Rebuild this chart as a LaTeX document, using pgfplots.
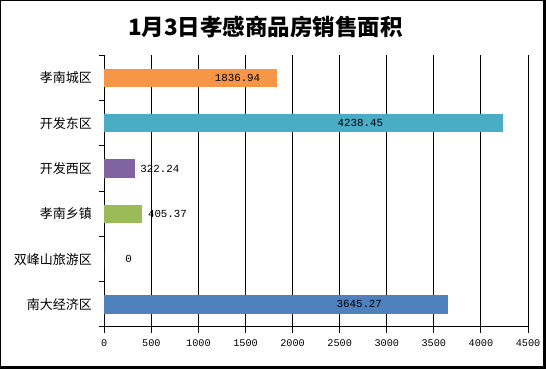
\documentclass[border=0pt]{standalone}
\usepackage{pgfplots}
\pgfplotsset{compat=1.18}
\usepackage{fontspec}
\newfontfamily\cjk{Noto Sans CJK SC}
\newfontfamily\mono{Liberation Mono}
\definecolor{cOrange}{HTML}{F79646}
\definecolor{cTeal}{HTML}{4BACC6}
\definecolor{cPurple}{HTML}{8064A2}
\definecolor{cGreen}{HTML}{9BBB59}
\definecolor{cBlue}{HTML}{4F81BD}
\begin{document}
\begin{tikzpicture}
\useasboundingbox (0,0) rectangle (546bp,369bp);
\fill[white] (0,0) rectangle (546bp,369bp);
\begin{axis}[
  at={(104.3bp,42bp)}, anchor=south west,
  scale only axis, width=423.7bp, height=271.7bp,
  xmin=0, xmax=4500, ymin=-0.5, ymax=5.5,
  xtick={0,500,...,4500},
  ytick={0,1,2,3,4,5},
  yticklabels={南大经济区,双峰山旅游区,孝南乡镇,开发西区,开发东区,孝南城区},
  minor ytick={-0.5,0.5,...,5.5},
  axis x line*=bottom, axis y line*=left,
  tick align=outside,
  major tick length=6bp,
  minor tick length=5bp,
  major y tick style={draw=none},
  minor y tick style={draw=black, line width=1bp},
  major x tick style={black, line width=1bp},
  axis line style={black, line width=1bp},
  xmajorgrids, grid style={black, line width=1bp},
  /pgf/number format/1000 sep={},
  /pgf/number format/assume math mode=true,
  xticklabel style={font=\mono\fontsize{10.2bp}{12bp}\selectfont, yshift=-3bp},
  yticklabel style={font=\cjk\fontsize{13bp}{15bp}\selectfont, xshift=-3bp},
  clip=false,
]
\addplot[xbar, bar width=18.4bp, bar shift=0pt, draw=none, fill=cBlue] coordinates {(3645.27,0)};
\addplot[xbar, bar width=18.4bp, bar shift=0pt, draw=none, fill=cGreen] coordinates {(0,1)};
\addplot[xbar, bar width=18.4bp, bar shift=0pt, draw=none, fill=cGreen] coordinates {(405.37,2)};
\addplot[xbar, bar width=18.4bp, bar shift=0pt, draw=none, fill=cPurple] coordinates {(322.24,3)};
\addplot[xbar, bar width=18.4bp, bar shift=0pt, draw=none, fill=cTeal] coordinates {(4238.45,4)};
\addplot[xbar, bar width=18.4bp, bar shift=0pt, draw=none, fill=cOrange] coordinates {(1836.94,5)};
\addplot[only marks, mark=none, nodes near coords, point meta=explicit symbolic,
  every node near coord/.append style={anchor=center, inner sep=0pt, font=\mono\fontsize{10.8bp}{12bp}\selectfont, text=black}]
  table[meta=label] {
  x y label
  2708 0 3645.27
  257 1 0
  671 2 405.37
  590 3 322.24
  2719 4 4238.45
  1415 5 1836.94
  };
\end{axis}
\node[font=\cjk\bfseries\fontsize{22.5bp}{26bp}\selectfont] at (265.5bp,342bp) {1月3日孝感商品房销售面积};
\fill[black] (0,0) rectangle (1.3bp,369bp);
\fill[black] (0,367.7bp) rectangle (546bp,369bp);
\fill[black] (542.7bp,0) rectangle (545.5bp,369bp);
\fill[black] (0,0) rectangle (546bp,3.2bp);
\end{tikzpicture}
\end{document}
